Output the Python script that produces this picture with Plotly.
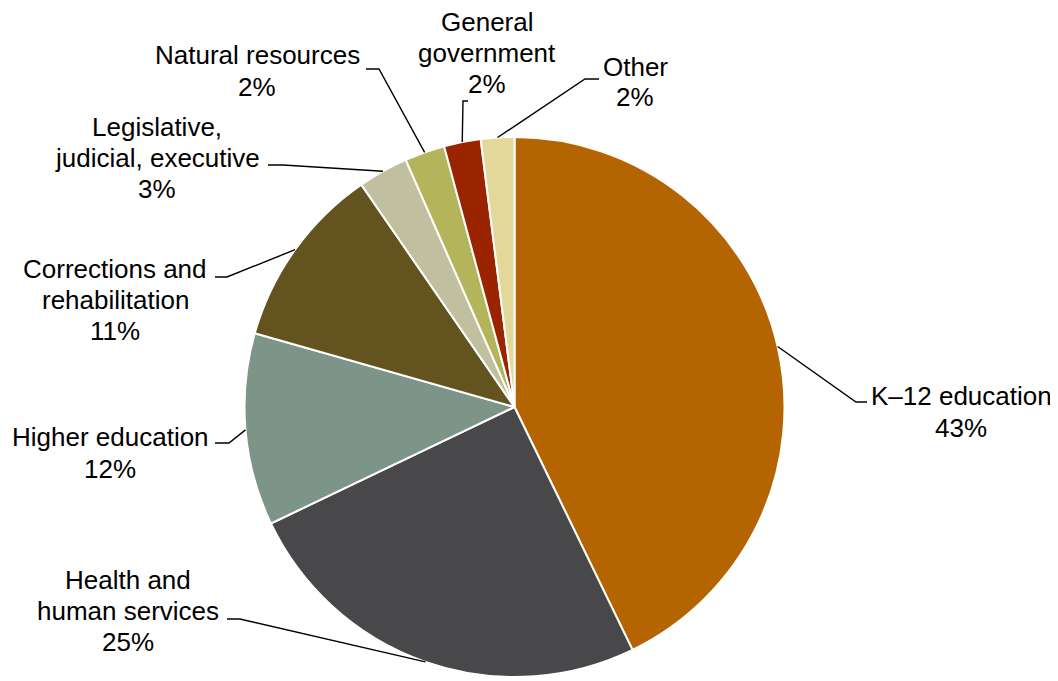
import numpy as np
import plotly.graph_objects as go

# ---- data ----
categories = ["K–12 education", "Health and human services", "Higher education",
              "Corrections and rehabilitation", "Legislative, judicial, executive",
              "Natural resources", "General government", "Other"]
values = [42.8, 25.1, 11.5, 11.0, 3.0, 2.4, 2.2, 2.0]
pct_labels = ["43%", "25%", "12%", "11%", "3%", "2%", "2%", "2%"]
label_lines = [
    ["K–12 education"],
    ["Health and", "human services"],
    ["Higher education"],
    ["Corrections and", "rehabilitation"],
    ["Legislative,", "judicial, executive"],
    ["Natural resources"],
    ["General", "government"],
    ["Other"],
]
colors = ["#B46400", "#48484A", "#7D9589", "#63531F", "#C0C0A0", "#B4B45A", "#9A2300", "#E3D79A"]

# ---- layout constants (pixels, page coordinates) ----
OFF = 8  # page body margin
W, H = 1058 - OFF, 681 - OFF
CX, CY, R = 514.5, 407, 270
FONT = 26
LINE_H = 31
# label block centre (x, y of block centre) in px
label_pos = [(961, 412), (128, 611), (110, 453), (115, 300), (157, 158), (257, 71), (487, 53), (635, 82)]
# leader elbow and horizontal end in px
elbows = [((856, 402), (867, 402)), ((240, 619), (227, 619)), ((229, 443), (215, 443)),
          ((227, 277), (215, 277)), ((283, 165), (268, 165)), ((379, 69), (366, 69)),
          ((463, 101), (468, 101)), ((585, 79), (599, 79))]


def px(x):
    return (x - OFF) / W


def py(y):
    return 1 - (y - OFF) / H


fig = go.Figure(go.Pie(
    labels=categories, values=values, sort=False, direction="clockwise", rotation=0,
    marker=dict(colors=colors, line=dict(color="white", width=2)),
    textinfo="none", hoverinfo="label+percent", showlegend=False,
    domain=dict(x=[px(CX - R), px(CX + R)], y=[py(CY + R), py(CY - R)]),
))

vals = np.array(values, dtype=float)
cum = np.cumsum(vals) / vals.sum()
mid = cum - vals / vals.sum() / 2
ang = mid * 2 * np.pi

shapes = []
annotations = []
for i, cat in enumerate(categories):
    ax = CX + R * np.sin(ang[i])
    ay = CY - R * np.cos(ang[i])
    (ex, ey), (hx, hy) = elbows[i]
    shapes.append(dict(type="path", xref="paper", yref="paper",
                       path=f"M {px(ax)},{py(ay)} L {px(ex)},{py(ey)} L {px(hx)},{py(hy)}",
                       line=dict(color="black", width=1.4)))
    lines = label_lines[i] + [pct_labels[i]]
    n = len(lines)
    lx, lc = label_pos[i]
    for j, t in enumerate(lines):
        yy = lc + (j - (n - 1) / 2) * LINE_H
        annotations.append(dict(x=px(lx), y=py(yy), xref="paper", yref="paper",
                                text=t, showarrow=False, xanchor="center", yanchor="middle",
                                font=dict(family="Arial, Liberation Sans, sans-serif", size=FONT, color="black")))

fig.update_layout(width=W, height=H, margin=dict(l=0, r=0, t=0, b=0),
                  paper_bgcolor="white", plot_bgcolor="white",
                  shapes=shapes, annotations=annotations)
fig.write_html("out.html")
